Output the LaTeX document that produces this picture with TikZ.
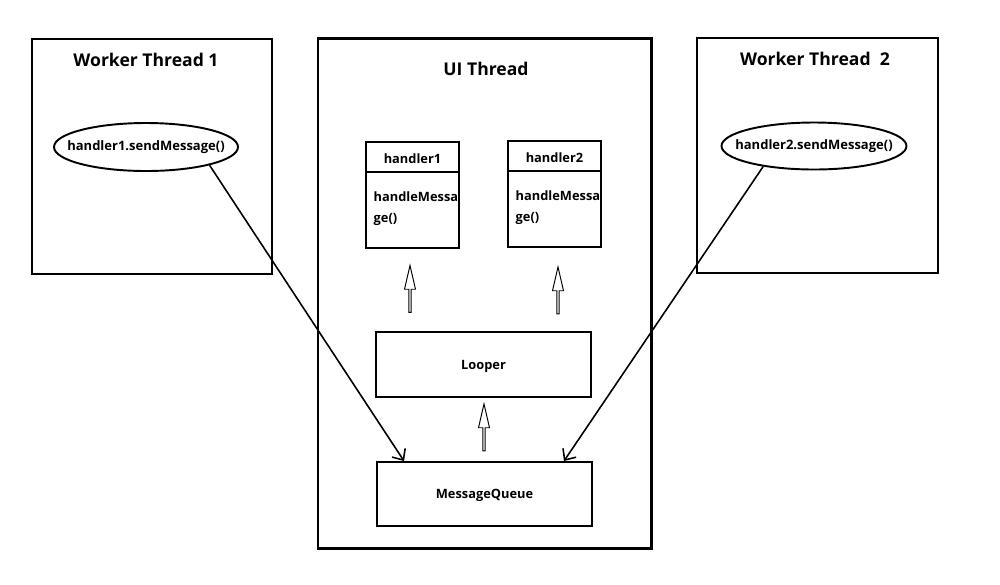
\documentclass[tikz,border=0pt]{standalone}
\usepackage{fontspec}
\setmainfont{Open Sans}
\usetikzlibrary{calc,shapes.geometric,shapes.arrows,arrows.meta}
\tikzset{
  box/.style={draw, line width=1.1pt, inner sep=0pt},
  oval/.style={draw, ellipse, line width=1.1pt, inner sep=0pt, font=\fontsize{7.4}{10}\selectfont\bfseries},
  title/.style={font=\fontsize{10}{11}\selectfont\bfseries},
  small/.style={font=\fontsize{7.3}{11.5}\selectfont\bfseries},
  up/.style={draw, single arrow, rotate=90, line width=0.55pt, inner sep=0pt, minimum width=0.22cm, minimum height=0.94cm, single arrow head extend=0.035cm, single arrow tip angle=26},
  send/.style={line width=0.9pt, -{Straight Barb[length=5pt,width=9pt]}}
}
\begin{document}
\begin{tikzpicture}
\useasboundingbox (0,0) rectangle (20,-11.68);
\node[box, minimum width=4.8cm, minimum height=4.7cm] (wt1) at (3.04,-3.13) {};
\node[box, line width=1.7pt, minimum width=6.66cm, minimum height=10.2cm] (ui) at (9.69,-5.86) {};
\node[box, minimum width=4.82cm, minimum height=4.7cm] (wt2) at (16.35,-3.11) {};
\node[title] at (2.92,-1.2) {Worker Thread 1};
\node[title] at (9.72,-1.38) {UI Thread};
\node[title] at (16.3,-1.18) {Worker Thread\ \ 2};
\node[oval, minimum width=3.68cm, minimum height=0.96cm] (e1) at (2.92,-2.94) {\makebox[0pt]{handler1.sendMessage()}};
\node[oval, minimum width=3.7cm, minimum height=0.94cm] (e2) at (16.28,-2.92) {\makebox[0pt]{handler2.sendMessage()}};
\node[box, minimum width=1.86cm, minimum height=2.12cm] (h1) at (8.25,-3.9) {};
\node[box, minimum width=1.86cm, minimum height=2.12cm] (h2) at (11.09,-3.88) {};
\draw[line width=1.1pt] ($(h1.north west)+(0,-0.62)$) -- ($(h1.north east)+(0,-0.62)$);
\draw[line width=1.1pt] ($(h2.north west)+(0,-0.62)$) -- ($(h2.north east)+(0,-0.62)$);
\node[small] at ($(h1.north)+(0,-0.36)$) {handler1};
\node[small] at ($(h2.north)+(0,-0.36)$) {handler2};
\node[small, anchor=north west, align=left] at ($(h1.north west)+(0.05,-0.9)$) {handleMessa\\ge()};
\node[small, anchor=north west, align=left] at ($(h2.north west)+(0.05,-0.9)$) {handleMessa\\ge()};
\node[box, minimum width=4.3cm, minimum height=1.3cm, small, text depth=0pt] (looper) at (9.67,-7.29) {Looper};
\node[box, minimum width=4.3cm, minimum height=1.28cm, small, text depth=0pt] (mq) at (9.69,-9.88) {MessageQueue};
\node[up] (a1) at (8.2,-5.83) {};
\node[up] (a2) at (11.16,-5.86) {};
\node[up] (a3) at (9.68,-8.6) {};
\draw[send] (e1.-16) -- ($(mq.north west)+(0.56,0)$);
\draw[send] (e2.-158) -- ($(mq.north east)+(-0.58,0)$);
\end{tikzpicture}
\end{document}
